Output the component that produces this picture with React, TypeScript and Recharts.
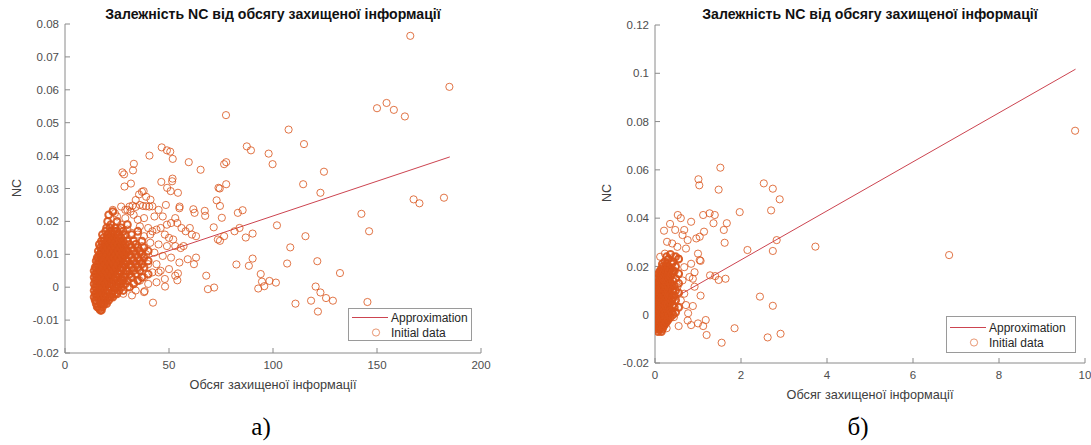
import React from 'react';
import { ScatterChart, Scatter, XAxis, YAxis } from 'recharts';

// Panel а) — x: 0..200
const xTicksA = [0, 50, 100, 150, 200];
const yTicksA = [-0.02, -0.01, 0, 0.01, 0.02, 0.03, 0.04, 0.05, 0.06, 0.07, 0.08];

// dense cluster, one column per x value
const coreA: [number, number[]][] = [
  [14, [-0.003, -0.001, 0.001, 0.003, 0.005]],
  [14.5, [-0.004, -0.002, 0.0, 0.002, 0.004, 0.006]],
  [15, [-0.005, -0.004, -0.002, 0.0, 0.002, 0.004, 0.006, 0.008]],
  [15.5, [-0.006, -0.003, -0.001, 0.001, 0.003, 0.005, 0.007, 0.009]],
  [16, [-0.006, -0.003, -0.001, 0.001, 0.003, 0.005, 0.007, 0.009, 0.011]],
  [16.5, [-0.0065, -0.004, -0.002, 0.0, 0.002, 0.004, 0.006, 0.008, 0.01, 0.013]],
  [17, [-0.007, -0.005, -0.002, 0.0, 0.002, 0.004, 0.006, 0.008, 0.01, 0.012]],
  [17.5, [-0.007, -0.005, -0.003, -0.001, 0.001, 0.003, 0.005, 0.007, 0.009, 0.011, 0.014]],
  [18, [-0.006, -0.004, -0.001, 0.001, 0.003, 0.005, 0.007, 0.009, 0.011, 0.013, 0.016]],
  [18.5, [-0.005, -0.002, 0.0, 0.002, 0.004, 0.006, 0.008, 0.01, 0.012, 0.015]],
  [19, [-0.005, -0.003, 0.0, 0.002, 0.004, 0.006, 0.008, 0.01, 0.012, 0.014]],
  [19.5, [-0.004, -0.001, 0.001, 0.003, 0.005, 0.007, 0.009, 0.011, 0.013, 0.017]],
  [20, [-0.005, -0.002, 0.001, 0.003, 0.005, 0.007, 0.009, 0.011, 0.013, 0.015, 0.018]],
  [20.5, [-0.003, 0.0, 0.002, 0.004, 0.006, 0.008, 0.01, 0.012, 0.014, 0.016, 0.02]],
  [21, [-0.004, -0.001, 0.002, 0.004, 0.006, 0.008, 0.01, 0.012, 0.014, 0.016, 0.022]],
  [21.5, [-0.003, 0.001, 0.003, 0.005, 0.007, 0.009, 0.011, 0.013, 0.015, 0.018]],
  [22, [-0.003, 0.0, 0.003, 0.005, 0.007, 0.009, 0.011, 0.013, 0.015, 0.017, 0.019]],
  [22.5, [-0.002, 0.001, 0.004, 0.006, 0.008, 0.01, 0.012, 0.014, 0.016]],
  [23, [-0.003, 0.001, 0.004, 0.006, 0.008, 0.01, 0.012, 0.014, 0.016, 0.023]],
  [23.5, [-0.001, 0.002, 0.005, 0.007, 0.009, 0.011, 0.013, 0.017]],
  [24, [-0.002, 0.0, 0.002, 0.005, 0.007, 0.009, 0.011, 0.013, 0.015, 0.018]],
  [24.5, [0.0, 0.003, 0.006, 0.008, 0.01, 0.012, 0.014, 0.016]],
  [25, [-0.002, 0.001, 0.003, 0.006, 0.008, 0.01, 0.012, 0.014, 0.017, 0.02]],
  [25.5, [0.0, 0.004, 0.007, 0.009, 0.011, 0.013, 0.015]],
  [26, [-0.001, 0.002, 0.004, 0.007, 0.009, 0.011, 0.013, 0.016]],
  [26.5, [0.001, 0.005, 0.008, 0.01, 0.012, 0.014]],
  [27, [0.0, 0.003, 0.005, 0.008, 0.01, 0.012, 0.015, 0.018]],
  [27.5, [0.002, 0.006, 0.009, 0.011, 0.013]],
  [28, [-0.001, 0.002, 0.006, 0.009, 0.011, 0.014, 0.017]],
  [28.5, [0.003, 0.007, 0.01, 0.012]],
  [29, [0.001, 0.004, 0.007, 0.01, 0.013, 0.016]],
  [29.5, [0.005, 0.008, 0.011]],
  [30, [0.002, 0.005, 0.008, 0.011, 0.014, 0.019]],
  [31, [0.0, 0.004, 0.007, 0.01, 0.013]],
  [32, [0.003, 0.006, 0.009, 0.012, 0.016]],
  [33, [0.001, 0.005, 0.008, 0.011, 0.014]],
  [34, [0.004, 0.007, 0.01, 0.013]],
  [35, [0.002, 0.006, 0.009, 0.012, 0.017]],
  [36, [0.005, 0.008, 0.011]],
  [37, [0.003, 0.007, 0.01, 0.014]],
  [38, [0.006, 0.009, 0.012]],
  [40, [0.004, 0.008, 0.011]],
];

const spreadA: [number, number][] = [
  [31, 0.0245], [32.5, 0.0248], [34, 0.0244], [36, 0.025], [37.5, 0.0247], [39, 0.0246],
  [40.5, 0.0245], [42, 0.0246], [31.5, 0.023], [33, 0.022], [35, 0.0205], [38, 0.021],
  [30, 0.0235], [29, 0.021], [27, 0.019], [26, 0.0175], [36, 0.0185], [40, 0.018],
  [42, 0.017], [44, 0.0175], [46, 0.018], [48, 0.016], [50, 0.015], [52, 0.0145],
  [54, 0.0195], [56, 0.018], [58, 0.017], [60, 0.018], [61, 0.016], [63, 0.0155],
  [57, 0.0125], [53, 0.0125], [49, 0.0125], [45, 0.013], [41, 0.0135], [37, 0.0125],
  [34, 0.013], [32, 0.011], [36, 0.0105], [39, 0.01], [43, 0.0105], [47, 0.0095],
  [51, 0.009], [55, 0.0075], [59, 0.0085], [44, 0.007], [40, 0.007], [36, 0.0065],
  [33, 0.008], [31, 0.005], [35, 0.004], [38, 0.003], [42, 0.0045], [46, 0.005],
  [50, 0.0055], [53, 0.0035], [48, 0.0025], [44, 0.0015], [40, 0.001], [36, 0.002],
  [33, 0.0015], [30, 0.0], [34, -0.001], [38, -0.0015], [28, -0.002], [45, 0.0045],
  [41, 0.016], [38, 0.0155], [35, 0.016], [32, 0.0165], [30, 0.0175], [28, 0.0155],
  [43, 0.0215], [45, 0.0235], [47, 0.0215], [49, 0.019], [51, 0.0195], [53, 0.021],
  [55, 0.024], [39, 0.0275], [34, 0.0265], [37, 0.029], [29, 0.0235], [25, 0.0215],
  [24, 0.0225], [27, 0.0245], [23, 0.0235],
];

const outliersA: [number, number][] = [
  [166, 0.0764], [184.8, 0.0609], [150, 0.0544], [154.6, 0.056], [158.1, 0.0539], [163.4, 0.0519],
  [77.4, 0.0523], [107.5, 0.0479], [114.9, 0.0435], [46.5, 0.0425], [49, 0.0416], [50.6, 0.0412],
  [40.6, 0.04], [51.8, 0.039], [87.4, 0.0428], [89.4, 0.0416], [97.9, 0.0406], [99.8, 0.0374],
  [59.5, 0.038], [76.5, 0.0374], [77.5, 0.038], [33.1, 0.0375], [32.7, 0.0355], [27.6, 0.0349],
  [28.4, 0.0343], [65.2, 0.0357], [124.5, 0.0351], [28.6, 0.0306], [31.7, 0.0315], [46.3, 0.032],
  [51.7, 0.033], [51.5, 0.0322], [49.1, 0.0302], [54.3, 0.0287], [50.8, 0.0292], [73.8, 0.0302],
  [74.4, 0.03], [77.5, 0.0313], [114.5, 0.0313], [122.8, 0.0287], [167.6, 0.0267], [170.4, 0.0255],
  [182.2, 0.0272], [72.9, 0.0264], [74.5, 0.0247], [37.8, 0.0292], [35.6, 0.0282], [41.1, 0.0266],
  [48.5, 0.025], [55.1, 0.0245], [61.7, 0.0237], [62.3, 0.0226], [67.2, 0.0232], [67.4, 0.0217],
  [85.4, 0.0234], [83.1, 0.0226], [75.4, 0.0211], [142.5, 0.0223], [101.9, 0.0188], [83.9, 0.018],
  [71.5, 0.0182], [81.5, 0.017], [90.2, 0.0163], [86.9, 0.0151], [115.6, 0.0155], [146.2, 0.017],
  [73.5, 0.0145], [74.5, 0.0141], [76.5, 0.0155], [108.3, 0.0121], [55.6, 0.0119], [63, 0.009],
  [62, 0.007], [82.4, 0.0069], [90.2, 0.0087], [88.4, 0.0065], [106.8, 0.0072], [121.3, 0.0079],
  [132.2, 0.0043], [94.1, 0.004], [94.7, 0.0017], [98.3, 0.0019], [101.4, 0.0014], [92.9, -0.0004],
  [95.8, 0.0003], [67.9, 0.0035], [68.7, -0.0006], [71.7, -0.0001], [120.5, 0.0002], [122.8, -0.0016],
  [125.5, -0.0033], [128.8, -0.0041], [118.3, -0.0041], [110.8, -0.005], [121.6, -0.0074],
  [145.4, -0.0045], [42.3, -0.0047], [48.1, 0.0002], [54, 0.0021], [54.3, 0.0042], [32.2, -0.0025],
  [38.3, -0.0012],
];

const approxA: [number, number][] = [[15, 0.0037], [185, 0.0396]];

// Panel б) — x: 0..10
const xTicksB = [0, 2, 4, 6, 8, 10];
const yTicksB = [-0.02, 0, 0.02, 0.04, 0.06, 0.08, 0.1, 0.12];

const coreB: [number, number[]][] = [
  [0.03, [-0.006, -0.004, -0.002, 0.0, 0.002, 0.004, 0.006, 0.008, 0.01, 0.012]],
  [0.05, [-0.005, -0.003, -0.001, 0.001, 0.003, 0.005, 0.007, 0.009, 0.011, 0.013]],
  [0.07, [-0.007, -0.005, -0.003, -0.001, 0.001, 0.003, 0.005, 0.007, 0.009, 0.011, 0.013, 0.015]],
  [0.09, [-0.006, -0.004, -0.002, 0.0, 0.002, 0.004, 0.006, 0.008, 0.01, 0.012, 0.014, 0.017]],
  [0.11, [-0.006, -0.004, -0.002, 0.0, 0.002, 0.004, 0.006, 0.008, 0.01, 0.012, 0.014, 0.016, 0.018]],
  [0.13, [-0.005, -0.003, -0.001, 0.001, 0.003, 0.005, 0.007, 0.009, 0.011, 0.013, 0.015, 0.018]],
  [0.15, [-0.007, -0.005, -0.003, -0.001, 0.001, 0.003, 0.005, 0.007, 0.009, 0.011, 0.013, 0.015, 0.017, 0.019]],
  [0.17, [-0.006, -0.004, -0.002, 0.0, 0.002, 0.004, 0.006, 0.008, 0.01, 0.012, 0.014, 0.016, 0.018, 0.021]],
  [0.19, [-0.005, -0.003, -0.001, 0.001, 0.003, 0.005, 0.007, 0.009, 0.011, 0.013, 0.015, 0.017, 0.02]],
  [0.21, [-0.004, -0.002, 0.0, 0.002, 0.004, 0.006, 0.008, 0.01, 0.012, 0.014, 0.016, 0.018]],
  [0.23, [-0.004, -0.002, 0.0, 0.002, 0.004, 0.006, 0.008, 0.01, 0.012, 0.014, 0.016, 0.019, 0.022]],
  [0.25, [-0.003, -0.001, 0.001, 0.004, 0.006, 0.008, 0.01, 0.012, 0.014, 0.017, 0.02]],
  [0.27, [-0.003, 0.0, 0.003, 0.005, 0.007, 0.009, 0.011, 0.013, 0.015, 0.018, 0.021, 0.024]],
  [0.29, [-0.001, 0.002, 0.004, 0.007, 0.009, 0.012, 0.016, 0.019]],
  [0.31, [-0.002, 0.001, 0.004, 0.006, 0.008, 0.01, 0.012, 0.014, 0.017, 0.02, 0.023]],
  [0.33, [0.0, 0.003, 0.007, 0.009, 0.015, 0.018]],
  [0.36, [-0.001, 0.002, 0.005, 0.008, 0.011, 0.013, 0.016, 0.019, 0.025]],
  [0.39, [0.001, 0.006, 0.012, 0.017, 0.021]],
  [0.42, [0.0, 0.004, 0.007, 0.01, 0.014, 0.018, 0.022]],
  [0.45, [0.003, 0.008, 0.012, 0.018]],
  [0.48, [0.001, 0.006, 0.01, 0.015, 0.02, 0.024]],
  [0.55, [0.003, 0.009, 0.013, 0.017, 0.023]],
];

const spreadB: [number, number][] = [
  [0.53, 0.0413], [0.6, 0.04], [0.21, 0.0348], [0.35, 0.0376], [0.47, 0.0351], [0.84, 0.0385],
  [0.96, 0.0316], [0.76, 0.0309], [0.68, 0.0351], [0.64, 0.033], [0.28, 0.0302], [0.4, 0.0295],
  [0.52, 0.0281], [0.72, 0.0274], [1.0, 0.0253], [1.04, 0.0226], [1.06, 0.0223], [0.84, 0.0211],
  [0.68, 0.0197], [0.92, 0.0176], [0.8, 0.0156], [0.64, 0.0142], [0.88, 0.0149], [0.52, 0.0114],
  [0.68, 0.0087], [0.6, 0.0059], [0.44, -0.001], [0.76, -0.0024], [0.12, 0.024], [0.23, 0.0253],
  [0.44, 0.024], [0.55, 0.0233], [0.28, 0.021], [0.47, 0.0197], [0.35, 0.0176], [0.55, 0.0169],
];

const outliersB: [number, number][] = [
  [9.77, 0.0762], [1.52, 0.0609], [1.01, 0.0561], [1.03, 0.0536], [1.48, 0.0518], [2.53, 0.0544],
  [2.74, 0.0522], [2.9, 0.0478], [2.7, 0.0432], [1.97, 0.0425], [3.73, 0.0282], [6.84, 0.0247],
  [2.15, 0.0268], [2.83, 0.0309], [2.74, 0.0264], [1.62, 0.0298], [1.6, 0.0351], [1.67, 0.0379],
  [1.27, 0.042], [1.39, 0.0413], [1.36, 0.0379], [1.12, 0.0413], [1.14, 0.0344], [1.04, 0.0323],
  [1.28, 0.0163], [1.4, 0.016], [1.48, 0.0144], [1.64, 0.0149], [2.44, 0.0075], [2.74, 0.0037],
  [1.06, 0.0079], [0.88, 0.0036], [0.92, 0.0116], [1.85, -0.0056], [1.18, -0.0022], [1.2, -0.0084],
  [1.0, -0.0036], [1.12, -0.0047], [1.55, -0.0116], [2.62, -0.0094], [2.92, -0.0079], [0.84, -0.0043],
  [0.55, -0.0047], [0.77, 0.0006], [0.72, 0.004], [0.27, -0.0056],
];

const approxB: [number, number][] = [[0.02, 0.0026], [9.78, 0.1017]];

const DOTS = '#D95319';
const LINE = '#cc4450';
const AXIS = '#8a8a8a';
const TICK_TEXT = '#4d4d4d';
const SANS = '"Liberation Sans", Arial, sans-serif';
const TITLE = 'Залежність NC від обсягу захищеної інформації';
const XLABEL = 'Обсяг захищеної інформації';

const toPoints = (rows: [number, number][]) => rows.map(([x, y]) => ({ x, y }));
const coreToPoints = (core: [number, number[]][]) =>
  core.flatMap(([x, ys]) => ys.map((y) => ({ x, y })));

const fmt = (v: number) => String(parseFloat(v.toFixed(2)));

const Ring = (props: any) => (
  <circle cx={props.cx} cy={props.cy} r={3.6} fill="none" stroke={DOTS} strokeOpacity={0.8} strokeWidth={1} />
);

// the packed cluster reads as a solid blob in the original
const DenseRing = (props: any) => (
  <circle cx={props.cx} cy={props.cy} r={3.4} fill="none" stroke={DOTS} strokeOpacity={0.9} strokeWidth={2} />
);

interface PanelProps {
  left: number;
  width: number;
  plot: { l: number; r: number; t: number; b: number };
  xDomain: [number, number];
  yDomain: [number, number];
  xTicks: number[];
  yTicks: number[];
  core: { x: number; y: number }[];
  points: { x: number; y: number }[];
  approx: [number, number][];
  legend: { l: number; t: number; w: number; h: number };
  caption: string;
}

function Panel({ left, width, plot, xDomain, yDomain, xTicks, yTicks, core, points, approx, legend, caption }: PanelProps) {
  const height = 445;
  const line = approx.map(([x, y]) => ({ x, y }));
  const tickStyle = { fill: TICK_TEXT, fontSize: 11.5, fontFamily: SANS };
  const plotCx = plot.l + (plot.r - plot.l) / 2;
  const plotCy = plot.t + (plot.b - plot.t) / 2;
  return (
    <>
      <div style={{ position: 'absolute', left, top: 0 }}>
        <ScatterChart
          width={width}
          height={height}
          margin={{ left: plot.l - left - 40, right: left + width - plot.r, top: plot.t, bottom: height - plot.b - 30 }}
        >
          <XAxis
            type="number"
            dataKey="x"
            domain={xDomain}
            ticks={xTicks}
            allowDataOverflow
            height={30}
            tickSize={-5}
            tickMargin={13}
            tick={tickStyle}
            axisLine={{ stroke: AXIS }}
            tickLine={{ stroke: AXIS }}
          />
          <XAxis
            xAxisId="top"
            orientation="top"
            type="number"
            dataKey="x"
            domain={xDomain}
            ticks={xTicks}
            allowDataOverflow
            height={0}
            tickSize={-5}
            tick={() => <g />}
            axisLine={{ stroke: AXIS }}
            tickLine={{ stroke: AXIS }}
          />
          <YAxis
            type="number"
            dataKey="y"
            domain={yDomain}
            ticks={yTicks}
            allowDataOverflow
            width={40}
            tickSize={-5}
            tickMargin={11}
            tickFormatter={fmt}
            tick={tickStyle}
            axisLine={{ stroke: AXIS }}
            tickLine={{ stroke: AXIS }}
          />
          <YAxis
            yAxisId="right"
            orientation="right"
            type="number"
            dataKey="y"
            domain={yDomain}
            ticks={yTicks}
            allowDataOverflow
            width={0}
            tickSize={-5}
            tick={() => <g />}
            axisLine={{ stroke: AXIS }}
            tickLine={{ stroke: AXIS }}
          />
          <Scatter
            data={line}
            line={{ stroke: LINE, strokeWidth: 1 }}
            shape={() => <g />}
            isAnimationActive={false}
          />
          <Scatter data={points} shape={Ring} isAnimationActive={false} />
          <Scatter data={core} shape={DenseRing} isAnimationActive={false} />
        </ScatterChart>
      </div>

      <div
        style={{
          position: 'absolute', left: plotCx - 250, width: 500, top: 5, textAlign: 'center',
          fontFamily: SANS, fontWeight: 'bold', fontSize: 14.1, color: '#111', lineHeight: '18px',
        }}
      >
        {TITLE}
      </div>
      <div
        style={{
          position: 'absolute', left: plotCx - 200, width: 400, top: plot.b + 25, textAlign: 'center',
          fontFamily: SANS, fontSize: 12.7, color: '#404040',
        }}
      >
        {XLABEL}
      </div>
      <div
        style={{
          position: 'absolute', left: plot.l - 48 - 30, width: 60, top: plotCy - 8, textAlign: 'center',
          fontFamily: SANS, fontSize: 12.5, color: '#404040', transform: 'rotate(-90deg)',
        }}
      >
        NC
      </div>

      <div
        style={{
          position: 'absolute', left: legend.l, top: legend.t, width: legend.w, height: legend.h,
          boxSizing: 'border-box', border: '1px solid #9a9a9a', background: '#fff',
          fontFamily: SANS, fontSize: 12, color: '#262626',
        }}
      >
        <svg width={legend.w} height={legend.h} style={{ position: 'absolute', left: -1, top: -1 }}>
          <line x1={4} x2={40} y1={legend.h / 2 - 7} y2={legend.h / 2 - 7} stroke={LINE} strokeWidth={1} />
          <circle cx={28} cy={legend.h / 2 + 8} r={3.6} fill="none" stroke={DOTS} strokeOpacity={0.6} />
        </svg>
        <div style={{ position: 'absolute', left: 42, top: legend.h / 2 - 15, lineHeight: '15px' }}>Approximation</div>
        <div style={{ position: 'absolute', left: 42, top: legend.h / 2, lineHeight: '15px' }}>Initial data</div>
      </div>

      <div
        style={{
          position: 'absolute', left: plotCx - 60 - 12, width: 120, top: 412, textAlign: 'center',
          fontFamily: '"Liberation Serif", "Times New Roman", serif', fontSize: 25, color: '#000', lineHeight: '30px',
        }}
      >
        {caption}
      </div>
    </>
  );
}

export default function App() {
  return (
    <div style={{ position: 'absolute', left: 0, top: 0, width: 1091, height: 445, background: '#fff', overflow: 'hidden' }}>
      <Panel
        left={0}
        width={545}
        plot={{ l: 65, r: 481, t: 24, b: 353 }}
        xDomain={[0, 200]}
        yDomain={[-0.02, 0.08]}
        xTicks={xTicksA}
        yTicks={yTicksA}
        core={coreToPoints(coreA)}
        points={[...toPoints(spreadA), ...toPoints(outliersA)]}
        approx={approxA}
        legend={{ l: 348, t: 308, w: 124, h: 33 }}
        caption="а)"
      />
      <Panel
        left={545}
        width={546}
        plot={{ l: 655, r: 1085, t: 25, b: 363 }}
        xDomain={[0, 10]}
        yDomain={[-0.02, 0.12]}
        xTicks={xTicksB}
        yTicks={yTicksB}
        core={coreToPoints(coreB)}
        points={[...toPoints(spreadB), ...toPoints(outliersB)]}
        approx={approxB}
        legend={{ l: 946, t: 316, w: 130, h: 37 }}
        caption="б)"
      />
    </div>
  );
}
